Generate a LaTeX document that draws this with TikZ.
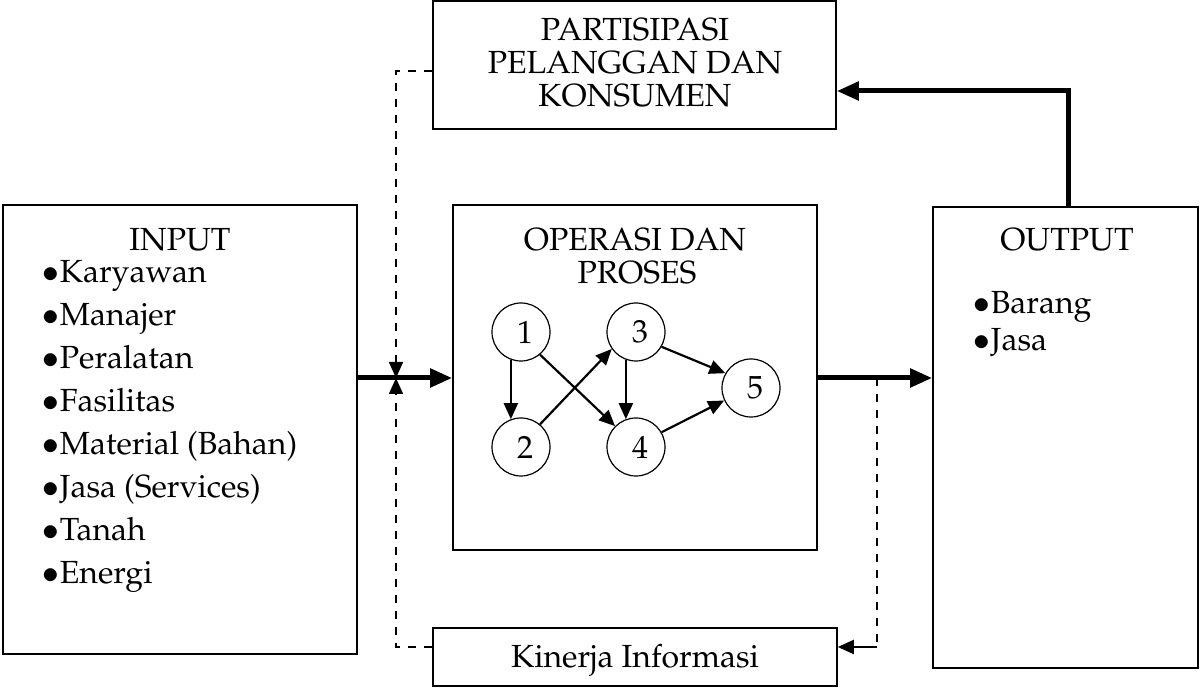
\documentclass[tikz,border=0pt]{standalone}
\usepackage[T1]{fontenc}
\usepackage{mathpazo}
\usetikzlibrary{arrows.meta}

\tikzset{
  box/.style={draw, line width=0.8pt, inner sep=0pt},
  txt/.style={font=\fontsize{16}{21.5}\selectfont, inner sep=0pt},
  ring/.style={draw, circle, line width=0.6pt, minimum size=29pt, inner sep=0pt, font=\fontsize{16}{19}\selectfont},
  thickarrow/.style={line width=2.5pt, -{Triangle[length=11pt,width=9pt]}},
  thinarrow/.style={line width=1.1pt, -{Triangle[length=8pt,width=7pt]}},
  dashline/.style={line width=0.8pt, dash pattern=on 4pt off 4pt},
}
\newcommand{\nm}[1]{\raisebox{-4pt}{\hspace{4pt}#1}}

\begin{document}
\begin{tikzpicture}[x=0.5pt, y=-0.5pt]
  \useasboundingbox (0,0) rectangle (1201,688);

  % boxes
  \node[box, minimum width=177pt, minimum height=224.5pt] (input) at (180,429.5) {};
  \node[box, minimum width=182pt, minimum height=172.5pt] (ops) at (635,377.5) {};
  \node[box, minimum width=132.5pt, minimum height=230.5pt] (output) at (1065.5,437.5) {};
  \node[box, minimum width=201.5pt, minimum height=64pt] (part) at (634.5,65) {};
  \node[box, minimum width=202pt, minimum height=29pt] (kinerja) at (635,657) {};

  % texts
  \node[txt, anchor=base] (tin) at (180,251) {INPUT};
  \node[txt, anchor=base west] (i1) at (42,283) {$\bullet$Karyawan};
  \node[txt, anchor=base west] (i2) at (42,326) {$\bullet$Manajer};
  \node[txt, anchor=base west] (i3) at (42,369) {$\bullet$Peralatan};
  \node[txt, anchor=base west] (i4) at (42,412) {$\bullet$Fasilitas};
  \node[txt, anchor=base west] (i5) at (42,455) {$\bullet$Material (Bahan)};
  \node[txt, anchor=base west] (i6) at (42,498) {$\bullet$Jasa (Services)};
  \node[txt, anchor=base west] (i7) at (42,541) {$\bullet$Tanah};
  \node[txt, anchor=base west] (i8) at (42,584) {$\bullet$Energi};

  \node[txt, anchor=base] (tops1) at (635,251) {OPERASI DAN};
  \node[txt, anchor=base] (tops2) at (637,284) {PROSES};

  \node[txt, anchor=base] (tout) at (1067,251) {OUTPUT};
  \node[txt, anchor=base west] (o1) at (973,314) {$\bullet$Barang};
  \node[txt, anchor=base west] (o2) at (973,351) {$\bullet$Jasa};

  \node[txt, anchor=base] (tp1) at (635,41) {PARTISIPASI};
  \node[txt, anchor=base] (tp2) at (635,74) {PELANGGAN DAN};
  \node[txt, anchor=base] (tp3) at (635,107) {KONSUMEN};
  \node[txt, anchor=base] (tkin) at (635,668) {Kinerja Informasi};

  % network
  \node[ring] (c1) at (521,332) {\nm{1}};
  \node[ring] (c2) at (521,447) {\nm{2}};
  \node[ring] (c3) at (636,332) {\nm{3}};
  \node[ring] (c4) at (636,447) {\nm{4}};
  \node[ring] (c5) at (751,388) {\nm{5}};
  \draw[thinarrow] (c1.250) -- (c2.110);
  \draw[thinarrow] (c1.-50) -- (c4.135);
  \draw[thinarrow] (c2.50) -- (c3.215);
  \draw[thinarrow] (c3.250) -- (c4.110);
  \draw[thinarrow] (c3.-30) -- (c5.150);
  \draw[thinarrow] (c4.30) -- (c5.205);

  % flows
  \coordinate (pin) at (396,71);
  \coordinate (mid) at (396,378);
  \coordinate (kin) at (396,647);
  \coordinate (tap) at (877,378);
  \coordinate (tapd) at (877,647);
  \coordinate (fb) at (1068,91);

  \draw[thickarrow] (input.east |- mid) -- (ops.west |- mid);
  \draw[thickarrow] (ops.east |- tap) -- (output.west |- tap);
  \draw[thickarrow] (output.north -| fb) -- (fb) -- (part.east |- fb);

  \draw[dashline, -{Triangle[length=8pt,width=7pt]}] (part.west |- pin) -- (pin) -- (mid);
  \draw[dashline, -{Triangle[length=8pt,width=7pt]}] (kinerja.west |- kin) -- (kin) -- (mid);
  \draw[dashline] (tap) -- (tapd);
  \draw[thinarrow] (tapd) -- (kinerja.east |- tapd);
\end{tikzpicture}
\end{document}
